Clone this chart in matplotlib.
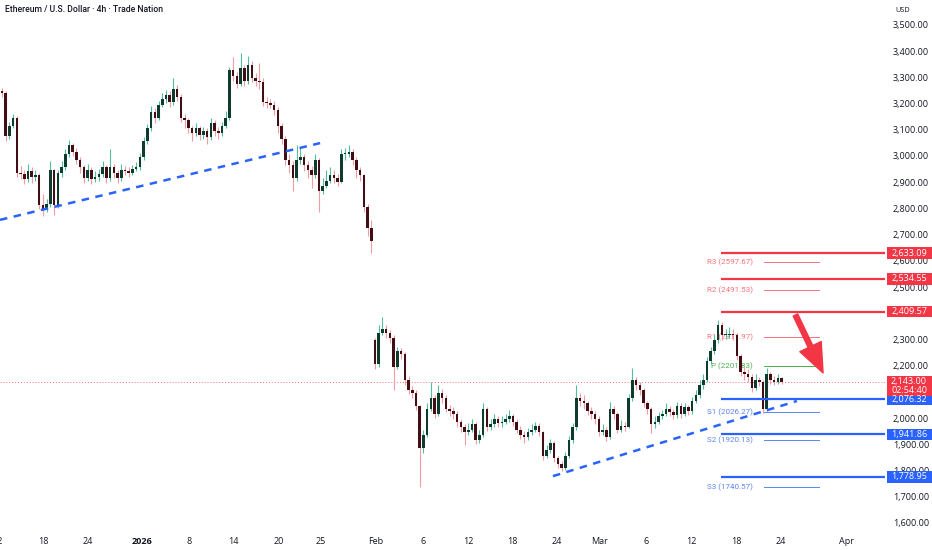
import matplotlib
matplotlib.use("Agg")
import matplotlib.pyplot as plt
import matplotlib.transforms as mtransforms
from matplotlib.patches import Rectangle
import numpy as np

plt.rcParams["font.family"] = ["Open Sans", "DejaVu Sans"]

# 12h candles, open = previous close (except the gap open)
closes = [
    3244, 3080, 3120, 3150, 2940, 2935, 2915, 2945, 2925, 2930,
    2815, 2800, 2820, 2950, 2815, 2940, 2960, 3010, 3045, 3020,
    2990, 2960, 2920, 2950, 2915, 2925, 2935, 2960, 2920, 2960,
    2940, 2920, 2950, 2945, 2940, 2955, 2960, 3000, 3060, 3110,
    3170, 3150, 3200, 3220, 3235, 3210, 3260, 3230, 3150, 3140,
    3110, 3090, 3110, 3085, 3100, 3075, 3130, 3100, 3090, 3120,
    3150, 3330, 3310, 3280, 3340, 3290, 3350, 3300, 3290, 3285,
    3210, 3205, 3200, 3180, 3120, 3070, 2990, 2970, 2920, 2990,
    3000, 2970, 2950, 2930, 2990, 2870, 2890, 2910, 2930, 2920,
    2905, 3010, 3010, 3020, 2990, 2950, 2930, 2810, 2730, 2680,
    2210, 2330, 2345, 2330, 2310, 2200, 2260, 2250, 2150, 2110,
    2100, 2050, 1890, 1940, 2040, 2080, 2020, 2100, 2080, 2040,
    2030, 2020, 1990, 1970, 1950, 1960, 1980, 1920, 1940, 2040,
    1970, 1980, 2000, 1985, 1990, 2000, 2010, 1990, 1960, 1940,
    1930, 1950, 1960, 1975, 1950, 1860, 1880, 1910, 1850, 1830,
    1815, 1860, 1920, 1970, 2080, 2070, 2060, 2030, 2020, 2000,
    1950, 1960, 1930, 2040, 2020, 1960, 1975, 1970, 2080, 2150,
    2130, 2110, 2060, 2040, 1980, 1990, 2010, 2020, 2040, 2025,
    2015, 2050, 2020, 2045, 2030, 2070, 2090, 2130, 2150, 2220,
    2260, 2300, 2360, 2320, 2320, 2325, 2320, 2240, 2180, 2170,
    2160, 2120, 2150, 2140, 2040, 2170, 2150, 2140, 2155, 2143,
]
highs = [
    3262, 3250, 3135, 3165, 3155, 2965, 2950, 2975, 2960, 2950,
    2940, 2860, 2840, 2985, 2955, 2950, 2985, 3030, 3065, 3055,
    3035, 3000, 2970, 2975, 2960, 2945, 2955, 2985, 2970, 3030,
    2975, 2950, 2975, 2965, 2960, 2970, 2980, 3015, 3075, 3125,
    3195, 3185, 3215, 3245, 3255, 3250, 3300, 3275, 3240, 3165,
    3150, 3120, 3130, 3120, 3115, 3110, 3150, 3140, 3115, 3135,
    3175, 3345, 3380, 3325, 3395, 3350, 3385, 3365, 3320, 3360,
    3300, 3230, 3220, 3215, 3190, 3130, 3080, 3010, 2985, 3045,
    3035, 3010, 2985, 2965, 3010, 2995, 2920, 2950, 2960, 2950,
    2935, 3030, 3035, 3045, 3030, 3000, 2960, 2935, 2820, 2760,
    2310, 2360, 2390, 2360, 2340, 2320, 2275, 2270, 2255, 2165,
    2125, 2110, 2055, 1960, 2060, 2140, 2090, 2130, 2115, 2090,
    2055, 2045, 2030, 2000, 1980, 1985, 2000, 1990, 1960, 2060,
    2045, 2000, 2020, 2010, 2010, 2020, 2035, 2020, 2000, 1975,
    1955, 1965, 1980, 1990, 1985, 1955, 1900, 1925, 1915, 1860,
    1840, 1875, 1935, 1985, 2130, 2100, 2090, 2070, 2045, 2030,
    2010, 1980, 1970, 2065, 2050, 2025, 1995, 1990, 2095, 2195,
    2160, 2140, 2120, 2070, 2045, 2010, 2025, 2035, 2060, 2050,
    2040, 2065, 2060, 2060, 2055, 2085, 2110, 2150, 2170, 2235,
    2275, 2320, 2378, 2370, 2345, 2350, 2345, 2330, 2250, 2200,
    2190, 2170, 2170, 2160, 2150, 2195, 2180, 2165, 2170, 2160,
]
lows = [
    3230, 3060, 3070, 3110, 2925, 2915, 2895, 2905, 2900, 2910,
    2800, 2775, 2790, 2810, 2780, 2805, 2925, 2950, 3000, 3005,
    2975, 2940, 2900, 2910, 2895, 2905, 2910, 2925, 2900, 2910,
    2920, 2900, 2910, 2930, 2925, 2930, 2945, 2950, 2990, 3050,
    3100, 3130, 3140, 3190, 3205, 3190, 3200, 3215, 3135, 3110,
    3090, 3060, 3080, 3065, 3070, 3050, 3065, 3080, 3070, 3080,
    3110, 3140, 3290, 3265, 3270, 3270, 3280, 3285, 3270, 3260,
    3195, 3185, 3185, 3160, 3090, 3050, 2970, 2940, 2870, 2910,
    2975, 2945, 2920, 2880, 2920, 2790, 2860, 2880, 2900, 2900,
    2890, 2900, 2990, 3000, 2970, 2920, 2910, 2790, 2700, 2634,
    2190, 2200, 2320, 2310, 2290, 2110, 2190, 2230, 2130, 2095,
    2080, 2035, 1740, 1870, 1930, 2030, 2005, 2010, 2060, 2025,
    2010, 2000, 1970, 1950, 1900, 1940, 1950, 1905, 1910, 1930,
    1955, 1960, 1970, 1970, 1970, 1980, 1990, 1975, 1945, 1925,
    1910, 1920, 1940, 1950, 1935, 1845, 1850, 1870, 1835, 1815,
    1800, 1805, 1850, 1910, 1960, 2050, 2040, 2015, 2000, 1980,
    1935, 1940, 1915, 1925, 2000, 1945, 1950, 1955, 1965, 2070,
    2110, 2090, 2045, 2020, 1947, 1965, 1980, 2000, 2010, 2010,
    2000, 2005, 2005, 2010, 2015, 2020, 2060, 2080, 2115, 2140,
    2210, 2250, 2290, 2300, 2305, 2310, 2300, 2225, 2165, 2150,
    2140, 2105, 2110, 2125, 2023, 2030, 2135, 2130, 2135, 2135,
]
first_open = 3250
gap_index = 100
gap_open = 2300

last_price = 2143.00
countdown = "02:54:40"

# key horizontal levels (thick) and pivot levels (thin)
resist_levels = [2633.09, 2534.55, 2409.57]
support_levels = [2076.32, 1941.86, 1778.95]
pivot_names = ["R3", "R2", "R1", "P", "S1", "S2", "S3"]
pivot_values = [2597.67, 2491.53, 2311.97, 2201.83, 2026.27, 1920.13, 1740.57]

# trend lines (day offset, price)
trend_upper = [(0.0, 2760), (42.9, 3053)]
trend_lower = [(74.1, 1782), (106.8, 2069)]

tick_days = [-0.35, 5.85, 11.8, 19.0, 25.3, 31.3, 37.3, 43.0, 50.4, 56.7,
             62.7, 68.6, 74.6, 80.3, 86.6, 92.6, 98.7, 104.6, 113.4]
tick_labels = ["12", "18", "24", "2026", "8", "14", "20", "25", "Feb", "6",
               "12", "18", "24", "Mar", "6", "12", "18", "24", "Apr"]
price_ticks = [1600, 1700, 1800, 1900, 2000, 2200, 2300, 2500, 2600,
               2700, 2800, 2900, 3000, 3100, 3200, 3300, 3400, 3500]

RED = "#f23645"
BLUE = "#2962ff"
TXT = "#131722"

fig = plt.figure(figsize=(9.32, 5.5), dpi=100)
ax = fig.add_axes([0, 18 / 550, 885 / 932, 532 / 550])
ax.set_xlim(0, 118.6)
ax.set_ylim(1569, 3599)
ax.set_axis_off()

n = len(closes)
t = (np.arange(n) + 0.5) * 0.5
opens = [first_open] + closes[:-1]
opens[gap_index] = gap_open
opens = np.array(opens, float)
c = np.array(closes, float)
h = np.array(highs, float)
l = np.array(lows, float)
up = c >= opens

wick_col = np.where(up, "#4fbf9f", "#f39aa3")
body_col = np.where(up, "#0f3a2e", "#420e16")
ax.vlines(t, l, h, colors=wick_col, linewidth=0.8, zorder=3)
bottom = np.minimum(opens, c)
height = np.maximum(np.abs(c - opens), 4)
ax.bar(t, height, bottom=bottom, width=0.34, color=body_col, linewidth=0, zorder=4)

# current price dotted line
ax.axhline(last_price, color=RED, lw=0.7, ls=(0, (1, 2)), alpha=0.7, zorder=2)

# trend lines
for seg in (trend_upper, trend_lower):
    xs, ys = zip(*seg)
    ax.plot(xs, ys, color=BLUE, lw=1.8, dashes=(3, 2.6), zorder=5)

# thick support / resistance lines
for v in resist_levels:
    ax.plot([96.6, 118.6], [v, v], color=RED, lw=1.6, zorder=5, solid_capstyle="butt")
for v in support_levels:
    ax.plot([96.6, 118.6], [v, v], color=BLUE, lw=1.6, zorder=5, solid_capstyle="butt")

# pivot levels
for name, v in zip(pivot_names, pivot_values):
    if name.startswith("R"):
        col = "#f7737c"
    elif name == "P":
        col = "#4caf50"
    else:
        col = "#5b86f0"
    ax.plot([102.4, 109.7], [v, v], color=col, lw=0.7, zorder=2)
    ax.text(100.9, v, f"{name} ({v:.2f})", color=col, fontsize=5.8,
            ha="right", va="center", zorder=2, family=["Roboto", "DejaVu Sans"])

# arrow
ax.annotate("", xy=(110.3, 2176), xytext=(106.6, 2397),
            arrowprops=dict(facecolor=RED, edgecolor=RED, width=3.6,
                            headwidth=17, headlength=21, shrink=0), zorder=6)

# price axis labels
trans_y = mtransforms.blended_transform_factory(fig.transFigure, ax.transData)
for p in price_ticks:
    ax.text(893 / 932, p, f"{p:,.2f}", transform=trans_y, fontsize=6.5,
            color=TXT, ha="left", va="center", clip_on=False)
fig.text(895 / 932, 1 - 11 / 550, "USD", fontsize=5.3, color=TXT, va="center")


def price_box(v, col, text, box_h=44, top=None, spacing=1.2):
    y0 = v - box_h / 2 if top is None else top - box_h
    ax.add_patch(Rectangle((887 / 932, y0), 45 / 932, box_h, transform=trans_y,
                           facecolor=col, edgecolor="none", clip_on=False, zorder=10))
    ax.text(909 / 932, y0 + box_h / 2, text, transform=trans_y, fontsize=6.5,
            color="white", ha="center", va="center", clip_on=False, zorder=11,
            linespacing=spacing)


for v in resist_levels:
    price_box(v, RED, f"{v:,.2f}")
for v in support_levels:
    price_box(v, BLUE, f"{v:,.2f}")
price_box(last_price, RED, f"{last_price:,.2f}\n{countdown}", box_h=74,
          top=last_price + 20, spacing=1.0)

# time axis labels
trans_x = mtransforms.blended_transform_factory(ax.transData, fig.transFigure)
for d, lab in zip(tick_days, tick_labels):
    ax.text(d, 1 - 542 / 550, lab, transform=trans_x, fontsize=6.5, color=TXT,
            ha="center", va="center", clip_on=False,
            fontweight="bold" if lab == "2026" else "normal")

fig.text(5 / 932, 1 - 10 / 550, "Ethereum / U.S. Dollar · 4h · Trade Nation",
         fontsize=6.2, color=TXT, va="center", fontweight="medium",
         family=["Roboto", "DejaVu Sans"])

fig.savefig("out.png", dpi=100, facecolor="white")
